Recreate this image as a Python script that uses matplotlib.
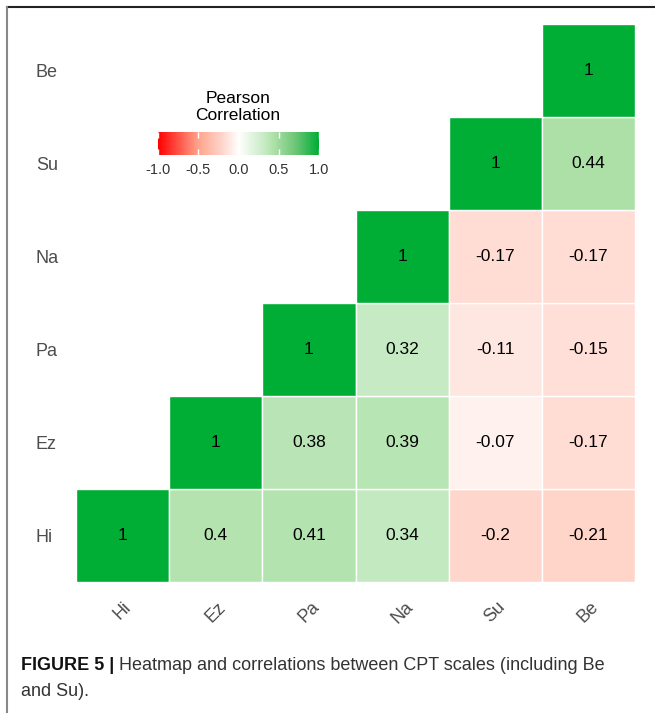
import numpy as np
import matplotlib
matplotlib.use("Agg")
import matplotlib.pyplot as plt
from matplotlib.colors import LinearSegmentedColormap, Normalize
from matplotlib.cm import ScalarMappable
from matplotlib.patches import Rectangle

plt.rcParams['font.family'] = ['Liberation Sans', 'DejaVu Sans']

scales = ["Hi", "Ez", "Pa", "Na", "Su", "Be"]

# upper triangle, one list per row (row scale vs. columns from itself to Be)
row_hi = [1, 0.4, 0.41, 0.34, -0.2, -0.21]
row_ez = [1, 0.38, 0.39, -0.07, -0.17]
row_pa = [1, 0.32, -0.11, -0.15]
row_na = [1, -0.17, -0.17]
row_su = [1, 0.44]
row_be = [1]
rows = [row_hi, row_ez, row_pa, row_na, row_su, row_be]

cbar_ticks = [-1.0, -0.5, 0.0, 0.5, 1.0]

caption_bold = "FIGURE 5 |"
caption_line1 = " Heatmap and correlations between CPT scales (including Be"
caption_line2 = "and Su)."

# red - white - green, stops roughly mimic ggplot's Lab interpolation
cmap = LinearSegmentedColormap.from_list("rwg", [
    (0.0, "#ff0000"),
    (0.25, "#ffa48c"),
    (0.4, "#ffd6cc"),
    (0.465, "#fff0ec"),
    (0.5, "#ffffff"),
    (0.66, "#c6ebc4"),
    (0.72, "#ade0a8"),
    (0.85, "#6fc678"),
    (1.0, "#00ad35"),
])
norm = Normalize(vmin=-1, vmax=1)

n = len(scales)

fig = plt.figure(figsize=(6.55, 7.13), dpi=100)
W, H = 655, 713

ax = fig.add_axes([76 / W, 1 - 582 / H, 559 / W, 558 / H])
for i, r in enumerate(rows):
    for k, v in enumerate(r):
        j = i + k
        ax.add_patch(Rectangle((j, i), 1, 1, facecolor=cmap(norm(v)),
                               edgecolor="white", linewidth=1))
        ax.text(j + 0.5, i + 0.5, "%g" % v, ha="center", va="center",
                fontsize=12.5, color="black")
ax.set_xlim(0, n)
ax.set_ylim(0, n)
ax.set_xticks(np.arange(n) + 0.5)
ax.set_yticks(np.arange(n) + 0.5)
ax.set_xticklabels(scales, rotation=45, ha="center", va="top", fontsize=13, color="#4d4d4d")
ax.set_yticklabels(scales, fontsize=13, color="#4d4d4d", ha="left")
ax.tick_params(axis="y", length=0, pad=29)
ax.tick_params(axis="x", length=0, pad=12)
for s in ax.spines.values():
    s.set_visible(False)

# legend colorbar
cax = fig.add_axes([158 / W, 1 - 155 / H, 161 / W, 23 / H])
cb = fig.colorbar(ScalarMappable(norm=norm, cmap=cmap), cax=cax, orientation="horizontal")
cb.outline.set_visible(False)
cb.set_ticks(cbar_ticks)
cb.set_ticklabels(["%.1f" % t for t in cbar_ticks])
cax.tick_params(axis="x", direction="in", length=4, width=1, color="white",
                labelcolor="#333333", labelsize=10.5, top=True, bottom=True, pad=6)
fig.text(238 / W, 1 - 107 / H, "Pearson\nCorrelation", ha="center", va="center",
         fontsize=12.5, color="black", linespacing=1.2)

# figure frame lines
fig.add_artist(plt.Line2D([7 / W, 1], [1 - 7 / H, 1 - 7 / H], color="#222222", linewidth=1.5))
fig.add_artist(plt.Line2D([7 / W, 7 / W], [0, 1 - 7 / H], color="#888888", linewidth=1.5))

# caption
t1 = fig.text(21 / W, 1 - 666 / H, caption_bold, fontsize=13, fontweight="bold",
              color="#111111", va="center", ha="left")
fig.canvas.draw()
bb = t1.get_window_extent()
fig.text(bb.x1 / W, 1 - 666 / H, caption_line1, fontsize=13,
         color="#333333", va="center", ha="left")
fig.text(21 / W, 1 - 692 / H, caption_line2, fontsize=13,
         color="#333333", va="center", ha="left")

fig.savefig("out.png", dpi=100)
